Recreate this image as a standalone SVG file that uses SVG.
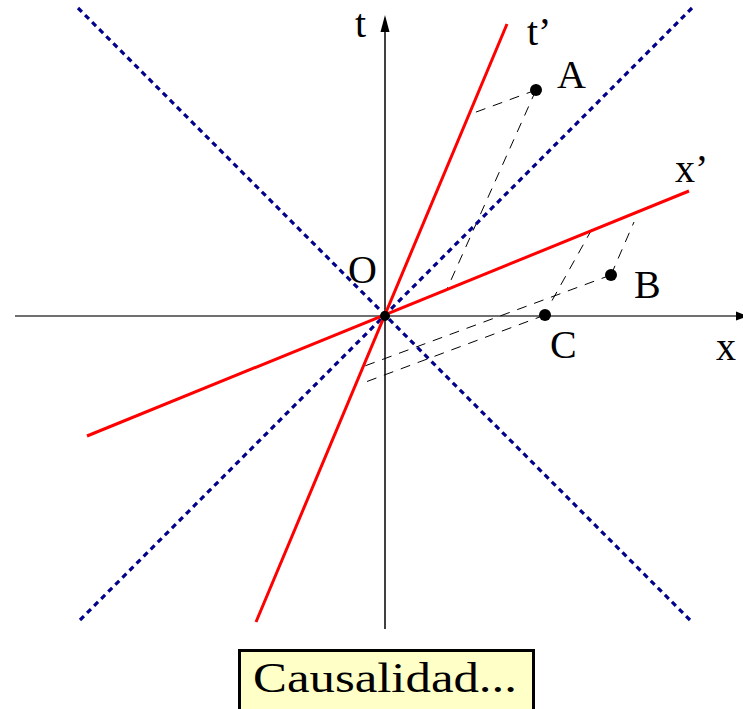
<svg xmlns="http://www.w3.org/2000/svg" width="743" height="709" viewBox="0 0 743 709">
<style>
text{font-family:"Liberation Serif","DejaVu Serif",serif;font-size:40px;fill:#000}
.lc{stroke:#00008b;stroke-width:3.2;stroke-dasharray:5.5 4.5;fill:none}
.fr{stroke:#ff0000;stroke-width:3;fill:none}
.dsh{stroke:#000;stroke-width:1;stroke-dasharray:10 8;fill:none}
.pt{fill:#000}
</style>
<rect width="743" height="709" fill="#fff"/>
<g id="axes">
<line x1="15" y1="316" x2="738" y2="316" stroke="#707070" stroke-width="1.8"/>
<polygon points="748,316 736,311.5 736,320.5" fill="#000"/>
<line x1="385" y1="629" x2="385" y2="28" stroke="#000" stroke-width="1.5"/>
<polygon points="385,15 380.5,32 389.5,32" fill="#000"/>
</g>
<g id="connectors">
<line class="dsh" x1="536" y1="90" x2="468" y2="115"/>
<line class="dsh" x1="536" y1="90" x2="447" y2="289"/>
<line class="dsh" x1="611" y1="275" x2="634" y2="222"/>
<line class="dsh" x1="592" y1="229" x2="549" y2="306"/>
<line class="dsh" x1="611" y1="275" x2="362" y2="367"/>
<line class="dsh" x1="545" y1="315" x2="363" y2="383"/>
</g>
<g id="light-cone">
<line class="lc" x1="78" y1="8" x2="692" y2="622"/>
<line class="lc" x1="692" y1="8" x2="78" y2="622"/>
</g>
<g id="frame-prime">
<line class="fr" x1="256" y1="622" x2="507" y2="24"/>
<line class="fr" x1="87" y1="436" x2="689" y2="191"/>
</g>
<g id="O"><circle class="pt" cx="385" cy="316" r="5"/><text x="348" y="283">O</text></g>
<g id="A"><circle class="pt" cx="536" cy="90" r="6"/><text x="557" y="88">A</text></g>
<g id="B"><circle class="pt" cx="611" cy="275" r="6"/><text x="634" y="298">B</text></g>
<g id="C"><circle class="pt" cx="545" cy="315" r="6"/><text x="550" y="358">C</text></g>
<g id="labels">
<text x="355" y="37">t</text>
<text x="527" y="45">t’</text>
<text x="675" y="182">x’</text>
<text x="716" y="360">x</text>
</g>
<g id="caption">
<rect x="239.5" y="650.5" width="294" height="70" fill="#ffffc8" stroke="#000" stroke-width="3"/>
<text x="253" y="692" style="font-size:42px" textLength="264" lengthAdjust="spacingAndGlyphs">Causalidad...</text>
</g>
</svg>
